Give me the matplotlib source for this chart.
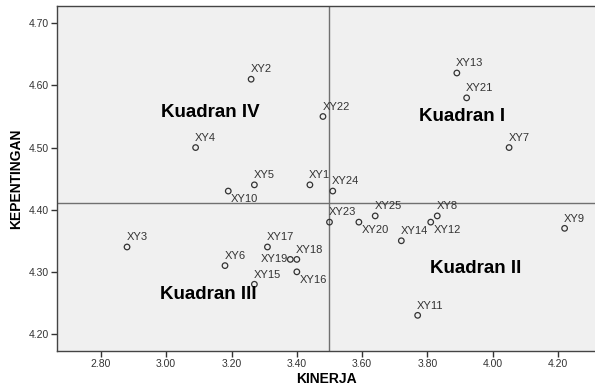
import matplotlib
matplotlib.use("Agg")
import matplotlib.pyplot as plt

plt.rcParams['font.family'] = ['Liberation Sans', 'DejaVu Sans']

labels = ["XY1", "XY2", "XY3", "XY4", "XY5", "XY6", "XY7", "XY8", "XY9", "XY10",
          "XY11", "XY12", "XY13", "XY14", "XY15", "XY16", "XY17", "XY18", "XY19",
          "XY20", "XY21", "XY22", "XY23", "XY24", "XY25"]
kinerja = [3.44, 3.26, 2.88, 3.09, 3.27, 3.18, 4.05, 3.83, 4.22, 3.19,
           3.77, 3.81, 3.89, 3.72, 3.27, 3.40, 3.31, 3.40, 3.38,
           3.59, 3.92, 3.48, 3.50, 3.51, 3.64]
kepentingan = [4.44, 4.61, 4.34, 4.50, 4.44, 4.31, 4.50, 4.39, 4.37, 4.43,
               4.23, 4.38, 4.62, 4.35, 4.28, 4.30, 4.34, 4.32, 4.32,
               4.38, 4.58, 4.55, 4.38, 4.43, 4.39]

mean_x = 3.50
mean_y = 4.41

quadrants = ["Kuadran I", "Kuadran II", "Kuadran III", "Kuadran IV"]
quad_x = [3.773, 3.809, 2.982, 2.985]
quad_y = [4.550, 4.305, 4.264, 4.557]

xticks = [2.80, 3.00, 3.20, 3.40, 3.60, 3.80, 4.00, 4.20]
yticks = [4.20, 4.30, 4.40, 4.50, 4.60, 4.70]

# labels not placed above-right of their point
below = {"XY10", "XY20", "XY12", "XY16"}
left = {"XY19"}

fig = plt.figure(figsize=(5.95, 3.91), dpi=100)
ax = fig.add_axes([0.0966, 0.1023, 0.905, 0.8831])
ax.set_facecolor('#f0f0f0')

ax.axvline(mean_x, color='#707070', lw=1.0, zorder=1)
ax.axhline(mean_y, color='#707070', lw=1.0, zorder=1)

ax.scatter(kinerja, kepentingan, s=16, facecolors='none', edgecolors='#333333',
           linewidths=0.9, zorder=3)

for name, x, y in zip(labels, kinerja, kepentingan):
    if name in below:
        ax.annotate(name, (x, y), xytext=(2, -6), textcoords='offset points',
                    ha='left', va='center', fontsize=8, color='#333333')
    elif name in left:
        ax.annotate(name, (x, y), xytext=(-2, 0), textcoords='offset points',
                    ha='right', va='center', fontsize=8, color='#333333')
    else:
        ax.annotate(name, (x, y), xytext=(-0.5, 7), textcoords='offset points',
                    ha='left', va='center', fontsize=8, color='#333333')

for q, x, y in zip(quadrants, quad_x, quad_y):
    ax.text(x, y, q, fontsize=13.5, fontweight='bold', ha='left', va='center',
            color='black')

ax.set_xlim(2.667, 4.316)
ax.set_ylim(4.1726, 4.7283)
ax.set_xticks(xticks)
ax.set_yticks(yticks)
ax.set_xticklabels(["%.2f" % v for v in xticks])
ax.set_yticklabels(["%.2f" % v for v in yticks])
ax.tick_params(labelsize=7.5, colors='#333333', length=4, width=1, pad=2)

for s in ax.spines.values():
    s.set_color('#444444')
    s.set_linewidth(1.0)

ax.set_xlabel("KINERJA", fontsize=10, fontweight='bold', labelpad=2)
ax.set_ylabel("KEPENTINGAN", fontsize=10, fontweight='bold', labelpad=4)

fig.savefig("out.png", dpi=100)
